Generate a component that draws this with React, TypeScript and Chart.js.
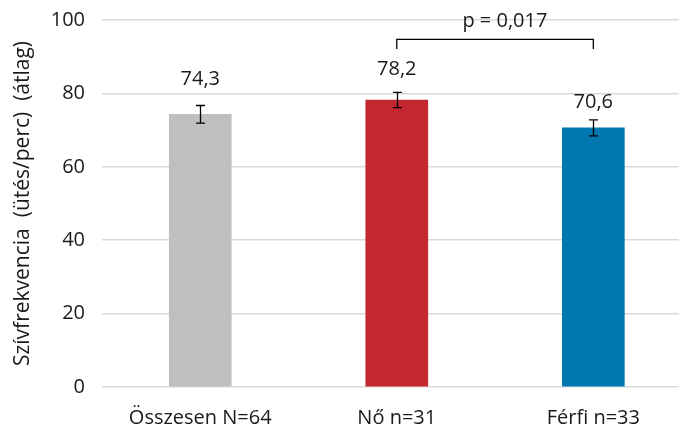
import React, { useEffect, useRef } from "react";
import { Chart, registerables } from "chart.js";

Chart.register(...registerables);

const categories = ["Összesen N=64", "Nő n=31", "Férfi n=33"];
const means = [74.3, 78.2, 70.6];
const errors = [2.4, 2.1, 2.2];
const valueLabels = ["74,3", "78,2", "70,6"];
const labelLevels = [83.9, 86.6, 77.5];
const barColors = ["#bebfc1", "#c3272f", "#0077ae"];
const yTicks = [0, 20, 40, 60, 80, 100];
const bracketFrom = 1;
const bracketTo = 2;
const bracketTop = 94.7;
const bracketFoot = 92.1;
const pText = "p = 0,017";
const pLevel = 99.6;
const pPos = 1.55;
const yTitle = "Szívfrekvencia  (ütés/perc)  (átlag)";

const FONT = '"Open Sans", sans-serif';
const TEXT = "#1a1a1a";

const overlay = {
  id: "overlay",
  afterDatasetsDraw(chart: any) {
    const { ctx } = chart;
    const x = chart.scales.x;
    const y = chart.scales.y;
    ctx.save();
    ctx.strokeStyle = "#000";
    ctx.lineWidth = 1.3;
    means.forEach((m, i) => {
      const cx = Math.round(x.getPixelForValue(i)) + 0.5;
      const t = y.getPixelForValue(m + errors[i]);
      const b = y.getPixelForValue(m - errors[i]);
      ctx.beginPath();
      ctx.moveTo(cx, t);
      ctx.lineTo(cx, b);
      ctx.moveTo(cx - 4.5, t);
      ctx.lineTo(cx + 4.5, t);
      ctx.moveTo(cx - 4.5, b);
      ctx.lineTo(cx + 4.5, b);
      ctx.stroke();
    });
    ctx.fillStyle = TEXT;
    ctx.font = `20px ${FONT}`;
    ctx.textAlign = "center";
    ctx.textBaseline = "middle";
    valueLabels.forEach((s, i) => {
      ctx.fillText(s, x.getPixelForValue(i), y.getPixelForValue(labelLevels[i]));
    });
    const x1 = x.getPixelForValue(bracketFrom);
    const x2 = x.getPixelForValue(bracketTo);
    const yt = y.getPixelForValue(bracketTop);
    const yf = y.getPixelForValue(bracketFoot);
    ctx.beginPath();
    ctx.moveTo(x1, yf);
    ctx.lineTo(x1, yt);
    ctx.lineTo(x2, yt);
    ctx.lineTo(x2, yf);
    ctx.stroke();
    ctx.fillText(pText, x.getPixelForValue(pPos), y.getPixelForValue(pLevel));
    ctx.restore();
  },
};

export default function App() {
  const ref = useRef<HTMLCanvasElement | null>(null);
  useEffect(() => {
    if (!ref.current) return;
    const chart = new Chart(ref.current, {
      type: "bar",
      data: {
        datasets: [
          {
            data: means.map((m, i) => ({ x: i, y: m })),
            backgroundColor: barColors,
            barThickness: 62,
            borderWidth: 0,
          },
        ],
      },
      options: {
        animation: false,
        responsive: true,
        maintainAspectRatio: false,
        layout: { padding: { top: 20, right: 6, left: 0, bottom: 0 } },
        plugins: {
          legend: { display: false },
          tooltip: { enabled: false },
        },
        scales: {
          x: {
            type: "linear",
            offset: false,
            min: -0.5,
            max: 2.436,
            grid: { display: false, drawTicks: false, offset: false },
            border: { display: false },
            afterBuildTicks: (s: any) => {
              s.ticks = categories.map((_, i) => ({ value: i }));
            },
            afterFit: (s: any) => {
              s.height = 45;
              s.paddingLeft = 0;
              s.paddingRight = 0;
            },
            ticks: {
              autoSkip: false,
              maxRotation: 0,
              padding: 19,
              color: TEXT,
              font: { family: FONT, size: 20 },
              callback: (v: any) => categories[v as number] ?? "",
            },
          },
          y: {
            min: 0,
            max: 100,
            afterBuildTicks: (s: any) => {
              s.ticks = yTicks.map((v) => ({ value: v }));
            },
            afterFit: (s: any) => {
              s.width = 102;
              s.paddingTop = 0;
              s.paddingBottom = 0;
            },
            grid: { color: "#d9d9d9", lineWidth: 1.5, drawTicks: false },
            border: { display: false },
            ticks: {
              padding: 17,
              color: TEXT,
              font: { family: FONT, size: 20 },
            },
            title: {
              display: true,
              text: yTitle,
              color: TEXT,
              font: { family: FONT, size: 21 },
              padding: { top: 10, bottom: 0 },
            },
          },
        },
      },
      plugins: [overlay],
    });
    return () => chart.destroy();
  }, []);
  return (
    <div style={{ position: "absolute", left: 0, top: 0, width: 685, height: 432 }}>
      <canvas ref={ref} />
    </div>
  );
}
